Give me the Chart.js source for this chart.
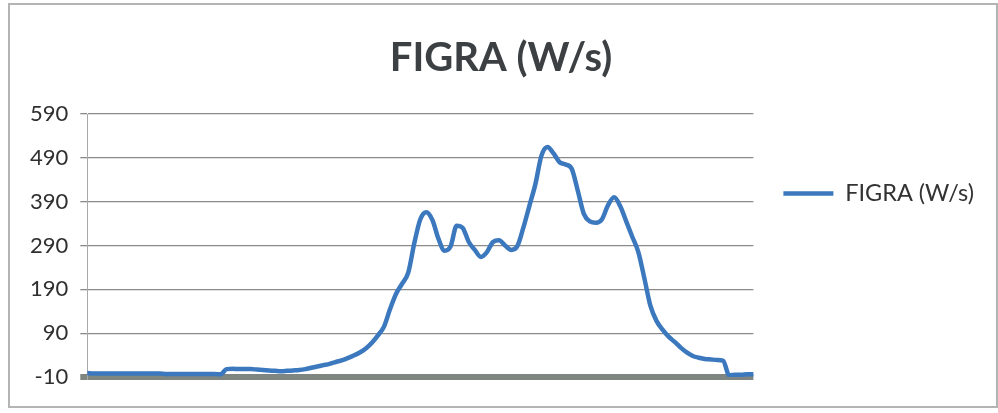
<!DOCTYPE html>
<html>
<head>
<meta charset="utf-8">
<script src="https://cdn.jsdelivr.net/npm/chart.js@4/dist/chart.umd.min.js"></script>
<style>
  html, body { margin: 0; padding: 0; background: #ffffff; }
  #wrap { position: relative; width: 998px; height: 413px; }
  #c { position: absolute; left: 0; top: 0; }
  #frame { position: absolute; left: 8px; top: 3px; width: 986px; height: 401px;
           border: 2px solid #b4b4b4; pointer-events: none; }
</style>
</head>
<body>
<div id="wrap">
  <canvas id="c" width="998" height="413"></canvas>
  <div id="frame"></div>
</div>
<script>
// ---- data ----
const chartTitle = 'FIGRA (W/s)';
const seriesName = 'FIGRA (W/s)';
// sample index (x axis carries no labels in the reference)
const sampleIndex = Array.from({length: 111}, (_, i) => String(i));
const figraValues = [
  -1, -2, -2, -2, -2, -2, -2, -2, -2, -2,
  -2, -2, -2, -3, -3, -3, -3, -3, -3, -3,
  -3, -3, -4, 8, 9, 8, 8, 8, 7, 6,
  5, 4, 3, 4, 5, 6, 8, 11, 14, 17,
  20, 24, 28, 33, 39, 46, 55, 68, 85, 105,
  145, 180, 203, 228, 295, 350, 366, 348, 305, 278,
  288, 335, 330, 298, 280, 264, 275, 298, 302, 290,
  280, 288, 330, 380, 430, 495, 515, 500, 480, 475,
  465, 415, 362, 345, 342, 350, 382, 400, 380, 345,
  310, 275, 215, 152, 118, 98, 82, 70, 57, 46,
  38, 34, 31, 30, 29, 27, -6, -5, -5, -4, -4
];
const yTicks = [-10, 90, 190, 290, 390, 490, 590];
const baseValue = -10;

const lineColor = '#3b78bd';

new Chart(document.getElementById('c'), {
  type: 'line',
  data: {
    labels: sampleIndex,
    datasets: [{
      label: seriesName,
      data: figraValues,
      borderColor: lineColor,
      backgroundColor: lineColor,
      borderWidth: 4.5,
      pointRadius: 0,
      pointHoverRadius: 0,
      cubicInterpolationMode: 'monotone',
      fill: false
    }]
  },
  options: {
    responsive: false,
    animation: false,
    layout: { padding: { left: 18, right: 14, top: 10, bottom: 36 } },
    plugins: {
      title: {
        display: true,
        text: chartTitle,
        color: '#3c4043',
        font: { family: 'Lato', size: 40, weight: 'bold' },
        padding: { top: 24, bottom: 32 }
      },
      legend: {
        display: true,
        position: 'right',
        labels: {
          color: '#333333',
          font: { family: 'Lato', size: 23.5 },
          usePointStyle: true,
          pointStyle: 'line',
          pointStyleWidth: 50,
          padding: 30
        }
      },
      tooltip: { enabled: false }
    },
    scales: {
      x: {
        type: 'category',
        offset: false,
        ticks: { display: false },
        grid: { display: false, drawTicks: false },
        border: { display: false }
      },
      y: {
        min: -10,
        max: 590,
        afterBuildTicks: (axis) => { axis.ticks = yTicks.map(v => ({ value: v })); },
        ticks: {
          color: '#2f2f2f',
          font: { family: 'Lato', size: 22 },
          padding: 12
        },
        grid: {
          color: (ctx) => (ctx.tick && ctx.tick.value === baseValue) ? '#7f8581' : '#8a8a8a',
          lineWidth: (ctx) => (ctx.tick && ctx.tick.value === baseValue) ? 6 : 1.3,
          tickLength: 7,
          drawTicks: true
        },
        border: { display: true, color: '#a8a8a8', width: 1 }
      }
    }
  }
});
</script>
</body>
</html>
